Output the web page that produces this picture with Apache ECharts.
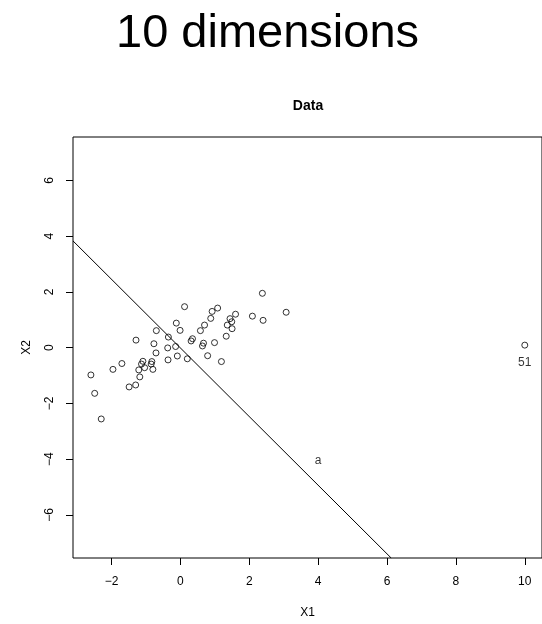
<!DOCTYPE html>
<html>
<head>
<meta charset="utf-8">
<script src="https://cdn.jsdelivr.net/npm/echarts@6/dist/echarts.min.js"></script>
<style>
  html, body { margin: 0; padding: 0; background: #fff; }
  #main { width: 542px; height: 624px; }
</style>
</head>
<body>
<div id="main"></div>
<script>
// scatter cloud
const ptX = [2.38, 3.07, 0.12, 0.92, 1.08, 1.60, 2.09, 2.40, 0.88, 1.44,
  1.49, 1.36, 1.50, 0.70, 0.58, -0.12, -0.01, -0.70, 1.33, -0.35,
  -1.29, 0.35, 0.31, 0.67, 0.64, 0.99, -0.77, -0.37, -0.14, -0.71,
  -0.09, 0.79, -0.36, 0.20, 1.19, -1.09, -0.83, -1.13, -0.85, -1.70,
  -1.96, -1.04, -1.21, -0.80, -1.18, -1.30, -1.49, -2.30, -2.60, -2.49,
  10.0];
const ptY = [1.95, 1.27, 1.47, 1.30, 1.42, 1.20, 1.13, 0.98, 1.05, 1.04,
  0.93, 0.81, 0.68, 0.81, 0.61, 0.88, 0.62, 0.61, 0.41, 0.38,
  0.27, 0.32, 0.24, 0.16, 0.06, 0.18, 0.14, -0.01, 0.04, -0.19,
  -0.30, -0.29, -0.44, -0.40, -0.50, -0.49, -0.50, -0.59, -0.59, -0.57,
  -0.78, -0.72, -0.80, -0.78, -1.05, -1.34, -1.41, -2.56, -0.98, -1.64,
  0.09];

// straight line "a"
const lineX = [-3.12, 6.12];
const lineY = [3.83, -7.55];

// text labels on the plot
const noteX = [4.0, 10.0];
const noteY = [-4.05, -0.55];
const noteText = ['a', '51'];

const xTicks = [-2, 0, 2, 4, 6, 8, 10];
const yTicks = [-6, -4, -2, 0, 2, 4, 6];

const chart = echarts.init(document.getElementById('main'));
const font = 'Liberation Sans, Arial, sans-serif';

chart.setOption({
  animation: false,
  backgroundColor: '#fff',
  textStyle: { fontFamily: font, color: '#000' },
  graphic: [{
    type: 'text',
    left: 116,
    top: 11,
    style: { text: '10 dimensions', fontSize: 47, fontFamily: font, fill: '#000' }
  }, {
    type: 'text',
    x: 308,
    y: 106,
    style: { text: 'Data', fontSize: 14, fontWeight: 'bold', fontFamily: font, fill: '#000',
      textAlign: 'center', textVerticalAlign: 'middle' }
  }],
  grid: {
    left: 73, top: 137, width: 471, height: 422,
    show: true, borderColor: '#000', borderWidth: 1, backgroundColor: '#fff'
  },
  xAxis: {
    type: 'value', min: -3.12, max: 10.5,
    name: 'X1', nameLocation: 'middle', nameGap: 49,
    nameTextStyle: { fontSize: 12, color: '#000', fontFamily: font },
    axisLine: { show: false, onZero: false },
    splitLine: { show: false },
    axisTick: { show: true, inside: false, length: 7, lineStyle: { color: '#000' }, customValues: xTicks },
    axisLabel: { color: '#000', fontSize: 12, margin: 18, customValues: xTicks,
      formatter: v => String(v).replace('-', '\u2212') }
  },
  yAxis: {
    type: 'value', min: -7.55, max: 7.56,
    name: 'X2', nameLocation: 'middle', nameGap: 40,
    nameTextStyle: { fontSize: 12, color: '#000', fontFamily: font },
    axisLine: { show: false, onZero: false },
    splitLine: { show: false },
    axisTick: { show: true, inside: false, length: 7, lineStyle: { color: '#000' }, customValues: yTicks },
    axisLabel: { color: '#000', fontSize: 12, margin: 17, rotate: 90, customValues: yTicks,
      formatter: v => String(v).replace('-', '\u2212') }
  },
  series: [{
    type: 'scatter',
    data: ptX.map((x, i) => [x, ptY[i]]),
    symbol: 'circle',
    symbolSize: 6,
    itemStyle: { color: 'rgba(0,0,0,0)', borderColor: '#000', borderWidth: 1 },
    silent: true
  }, {
    type: 'line',
    data: lineX.map((x, i) => [x, lineY[i]]),
    showSymbol: false,
    clip: true,
    lineStyle: { color: '#000', width: 1 },
    silent: true
  }, {
    type: 'scatter',
    data: noteX.map((x, i) => [x, noteY[i], noteText[i]]),
    symbolSize: 0,
    label: { show: true, position: 'inside', color: '#000', fontSize: 12, fontFamily: font,
      formatter: p => p.value[2] },
    silent: true
  }]
});
</script>
</body>
</html>
